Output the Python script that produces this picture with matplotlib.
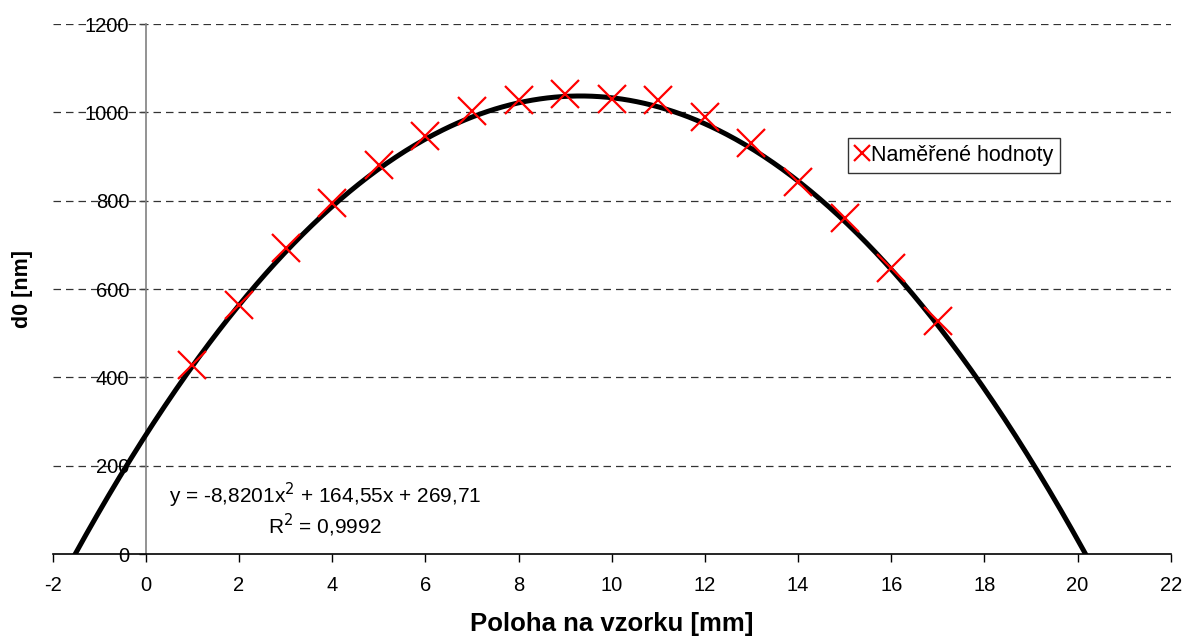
import numpy as np
import matplotlib.pyplot as plt

plt.rcParams['font.family'] = ['Liberation Sans', 'DejaVu Sans']
plt.rcParams['axes.unicode_minus'] = False

# namerene hodnoty
poloha = [1, 2, 3, 4, 5, 6, 7, 8, 9, 10, 11, 12, 13, 14, 15, 16, 17]
d0 = [429, 564, 692, 794, 882, 946, 1003, 1028, 1041, 1031, 1028, 990, 930, 843, 760, 648, 527]

# polynomialni trend (Excel)
koef = [-8.8201, 164.55, 269.71]
r2 = 0.9992

x_ticks = list(range(-2, 23, 2))
y_ticks = list(range(0, 1201, 200))

fig = plt.figure(figsize=(11.86, 6.42), dpi=100)
ax = fig.add_axes([0.0444, 0.137, 0.9427, 0.8255])

xs = np.linspace(-2, 22, 600)
ax.plot(xs, np.polyval(koef, xs), color='black', lw=3.6, zorder=3)
ax.plot(poloha, d0, linestyle='none', marker='x', ms=20, mew=1.6,
        color='red', label='Naměřené hodnoty', zorder=4)

ax.set_xlim(-2, 22)
ax.set_ylim(0, 1200)
ax.set_xticks(x_ticks)
ax.set_yticks(y_ticks)

for y in y_ticks[1:]:
    ax.axhline(y, color='#333333', lw=0.9, dashes=(6, 4), zorder=1)

ax.spines['top'].set_visible(False)
ax.spines['right'].set_visible(False)
ax.spines['left'].set_position(('data', 0))
ax.spines['left'].set_color('#808080')
ax.spines['left'].set_linewidth(1.2)
ax.spines['bottom'].set_linewidth(1.2)

ax.tick_params(axis='y', direction='out', length=5, width=1, color='#404040',
               labelsize=14.5, pad=7)
ax.tick_params(axis='x', direction='out', length=6, width=1,
               labelsize=14.5, pad=10)

ax.set_xlabel('Poloha na vzorku [mm]', fontsize=18.5, fontweight='bold', labelpad=12)
ax.set_ylabel('d0 [nm]', fontsize=15.5, fontweight='bold')
ax.yaxis.set_label_coords(-0.0176, 0.5)

a, b, c = koef
rovnice = ('y = ' + f'{a:.4f}'.replace('.', ',') + 'x$^2$ + '
           + f'{b:.2f}'.replace('.', ',') + 'x + ' + f'{c:.2f}'.replace('.', ','))
ax.text(3.84, 133, rovnice, fontsize=15, ha='center', va='center')
ax.text(3.84, 65, 'R$^2$ = ' + f'{r2:.4f}'.replace('.', ','), fontsize=15,
        ha='center', va='center')

leg = ax.legend(loc='upper left', bbox_to_anchor=(0.7113, 0.785), fontsize=15.5,
                frameon=True, fancybox=False, edgecolor='black',
                handlelength=0.7, handletextpad=0.05, borderpad=0.32,
                borderaxespad=0, markerscale=0.55)
leg.get_frame().set_linewidth(1.0)

fig.savefig('out.png', dpi=100)
